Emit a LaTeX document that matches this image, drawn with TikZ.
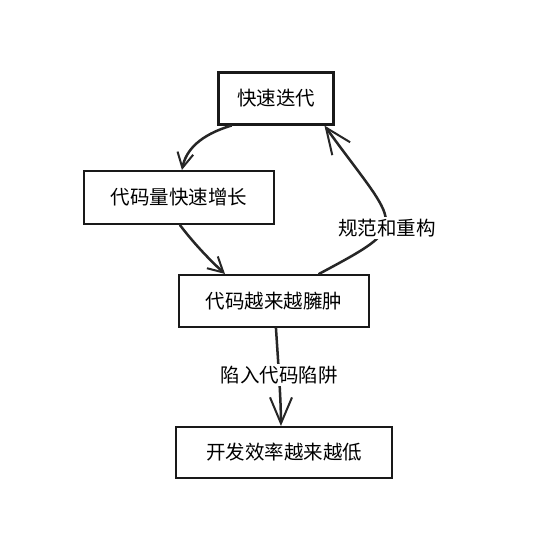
\documentclass[tikz,border=0pt]{standalone}
\usepackage{fontspec}
\setmainfont{Noto Sans CJK SC}
\usetikzlibrary{arrows.meta,calc}
\tikzset{
  box/.style={draw=black!90,line width=2.1pt,fill=white,inner sep=0pt,font=\fontsize{19.5}{22}\selectfont},
  lbl/.style={fill=white,inner sep=2pt,font=\fontsize{19.5}{22}\selectfont},
  conn/.style={draw=black!85,line width=2.5pt,line cap=round},
  bigtip/.style={-{Straight Barb[length=26pt,width=22pt,line width=2pt]}},
  smalltip/.style={-{Straight Barb[length=15pt,width=16pt,line width=2pt]}}
}
\begin{document}
\begin{tikzpicture}[x=1pt,y=-1pt]
\useasboundingbox[fill=white] (0,0) rectangle (540,540);
\node[box,minimum width=115pt,minimum height=52pt] (b1) at (276,98.5) {快速迭代};
\node[box,minimum width=190pt,minimum height=53pt] (b2) at (179,197.5) {代码量快速增长};
\node[box,minimum width=190pt,minimum height=52pt] (b3) at (274,301) {代码越来越臃肿};
\node[box,minimum width=216pt,minimum height=51pt] (b4) at (284,452.5) {开发效率越来越低};
% b1 -> b2
\draw[conn,smalltip] ([xshift=14pt]b1.south west) .. controls (200,135) and (186,150) .. ([xshift=99pt]b2.north west);
% b2 -> b3
\draw[conn,smalltip] ([xshift=97pt]b2.south west) .. controls (195,245) and (212,262) .. ([xshift=47pt]b3.north west);
% b3 -> b1 (refactor)
\draw[conn,bigtip] ([xshift=141pt]b3.north west) .. controls (414,223) and (400,230) .. ([xshift=107pt]b1.south west);
\node[lbl] (l1) at (387,228) {规范和重构};
% b3 -> b4
\draw[conn,bigtip] ([xshift=98pt]b3.south west) .. controls (278,360) and (281,400) .. ([xshift=106pt]b4.north west);
\node[lbl] (l2) at (279,375) {陷入代码陷阱};
\end{tikzpicture}
\end{document}
